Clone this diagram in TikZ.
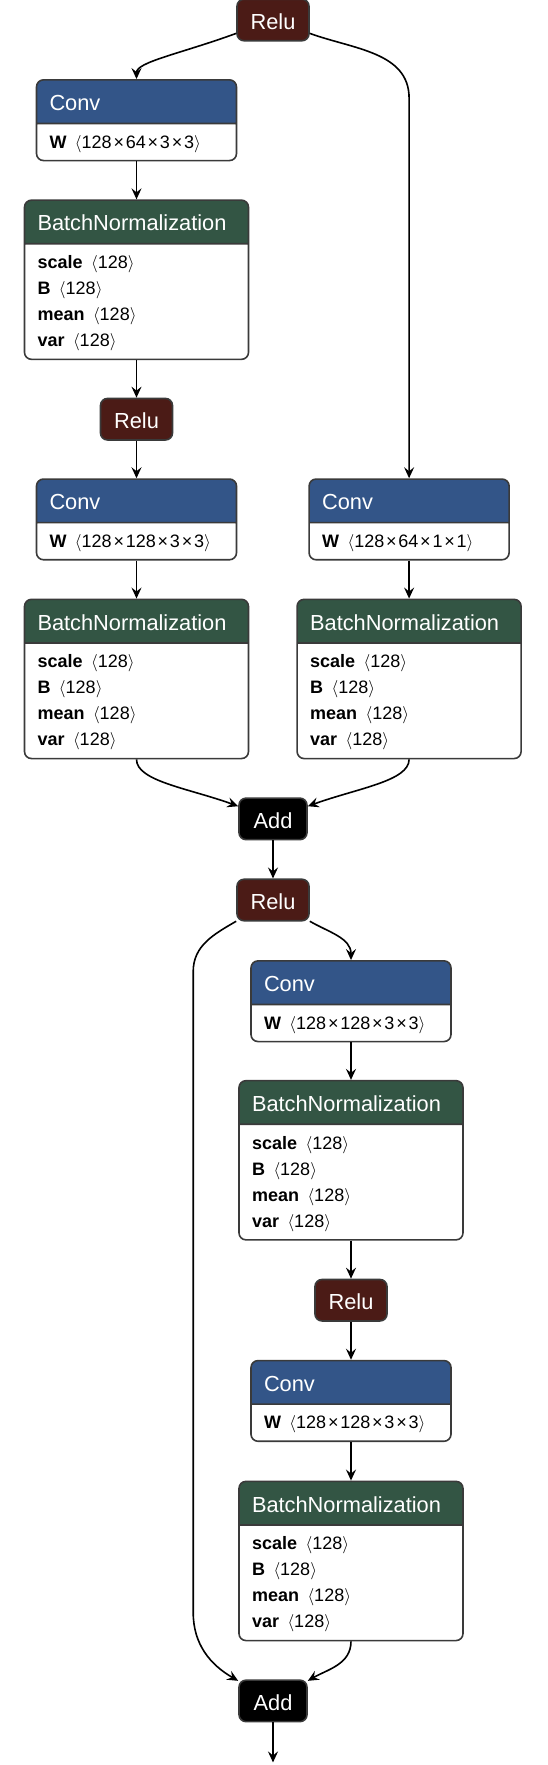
\documentclass[tikz,border=0pt]{standalone}
\usepackage{fontspec}
\setmainfont{Liberation Sans}
\usepackage{tikz}
\usetikzlibrary{arrows.meta,positioning,shapes.multipart}
\definecolor{netInk}{HTML}{000000}
\definecolor{netLine}{HTML}{3A3A3A}
\definecolor{netConv}{HTML}{335588}
\definecolor{netNorm}{HTML}{335544}
\definecolor{netRelu}{HTML}{4B1B16}
\definecolor{netAdd}{HTML}{000000}
\newcommand\headfont{\fontsize{21.8}{26}\selectfont}
\newcommand\bodyfont{\fontsize{18}{26}\selectfont}
\newcommand\by{\hspace{1.8pt}×\hspace{1.8pt}}
\newcommand\attr[2]{\textbf{#1}\hspace{8.5pt}$\langle$#2$\rangle$}
\newcommand\headstrut{\rule[-12pt]{0pt}{42pt}}
\newcommand\convbody[1]{\color{black}\bodyfont\rule[-11.5pt]{0pt}{35.5pt}\attr{W}{#1}}
\newcommand\normbody{\color{black}\bodyfont
  \rule{0pt}{24pt}\attr{scale}{128}\\
  \attr{B}{128}\\
  \attr{mean}{128}\\
  \rule[-12pt]{0pt}{12pt}\attr{var}{128}}

\begin{document}
\begin{tikzpicture}[
  x=1pt, y=1pt,
  font=\headfont,
  layer/.style={rectangle split, rectangle split parts=2, rectangle split draw splits=true,
    draw=netLine, line width=1.6pt, rounded corners=7pt, inner xsep=13pt, inner ysep=0pt,
    align=left, text=white},
  conv/.style={layer, text width=174pt, rectangle split part fill={netConv, white}},
  norm/.style={layer, text width=198pt, rectangle split part fill={netNorm, white}},
  op/.style={draw=netLine, line width=1.6pt, rounded corners=7pt, text=white, inner sep=0pt,
    text height=30pt, text depth=11.5pt},
  relu/.style={op, fill=netRelu, minimum width=72pt},
  add/.style={op, fill=netAdd, minimum width=68pt},
  edge/.style={-{Stealth[length=11pt, width=10pt, inset=4pt]}, line width=1.6pt, draw=netInk}
]
  \useasboundingbox (0,0) rectangle (548,-1765);

  % first block, with projection shortcut
  \node[relu] (relu0) at (273,-20) {Relu};
  \node[conv, below=37.5pt of relu0, xshift=-136.5pt] (conv1) {\headstrut Conv
    \nodepart{two}\convbody{128\by64\by3\by3}};
  \node[norm, below=38pt of conv1] (bn1) {\headstrut BatchNormalization \nodepart{two}\normbody};
  \node[relu, below=37.5pt of bn1] (relu1) {Relu};
  \node[conv, below=37.5pt of relu1] (conv2) {\headstrut Conv
    \nodepart{two}\convbody{128\by128\by3\by3}};
  \node[norm, below=38pt of conv2] (bn2) {\headstrut BatchNormalization \nodepart{two}\normbody};

  \node[conv, right=71pt of conv2] (convR) {\headstrut Conv
    \nodepart{two}\convbody{128\by64\by1\by1}};
  \node[norm, below=38pt of convR] (bnR) {\headstrut BatchNormalization \nodepart{two}\normbody};

  \node[add, below=38pt of bn2, xshift=136.5pt] (add1) {Add};

  % second block, identity shortcut
  \node[relu, below=38pt of add1] (relu3) {Relu};
  \node[conv, below=38.5pt of relu3, xshift=78pt] (conv3) {\headstrut Conv
    \nodepart{two}\convbody{128\by128\by3\by3}};
  \node[norm, below=37.5pt of conv3] (bn3) {\headstrut BatchNormalization \nodepart{two}\normbody};
  \node[relu, below=38pt of bn3] (relu4) {Relu};
  \node[conv, below=38pt of relu4] (conv4) {\headstrut Conv
    \nodepart{two}\convbody{128\by128\by3\by3}};
  \node[norm, below=38.5pt of conv4] (bn4) {\headstrut BatchNormalization \nodepart{two}\normbody};
  \node[add, below=38pt of bn4, xshift=-78pt] (add2) {Add};

  \coordinate[above=380pt of convR.north] (rightTurn);
  \coordinate[below left=50pt and 43pt of relu3.south west] (skipTop);
  \coordinate[above left=67pt and 45pt of add2.north west] (skipBot);
  \coordinate[below=40pt of add2] (outArrow);

  \draw[edge] (relu0) to[out=200, in=90, out looseness=1.4, in looseness=0.4] (conv1);
  \draw[edge] (relu0) to[out=-20, in=90] (rightTurn) -- (convR);
  \draw[edge] (conv1) -- (bn1);
  \draw[edge] (bn1) -- (relu1);
  \draw[edge] (relu1) -- (conv2);
  \draw[edge] (conv2) -- (bn2);
  \draw[edge] (convR) -- (bnR);
  \draw[edge] (bn2) to[out=-90, in=160, out looseness=0.5, in looseness=1.2] (add1);
  \draw[edge] (bnR) to[out=-90, in=20, out looseness=0.5, in looseness=1.2] (add1);
  \draw[edge] (add1) -- (relu3);

  \draw[edge] (relu3) to[out=-30, in=90] (conv3);
  \draw[edge] (relu3) to[out=-150, in=90] (skipTop) -- (skipBot) to[out=-90, in=150] (add2);
  \draw[edge] (conv3) -- (bn3);
  \draw[edge] (bn3) -- (relu4);
  \draw[edge] (relu4) -- (conv4);
  \draw[edge] (conv4) -- (bn4);
  \draw[edge] (bn4) to[out=-90, in=30] (add2);
  \draw[edge] (add2) -- (outArrow);
\end{tikzpicture}
\end{document}
